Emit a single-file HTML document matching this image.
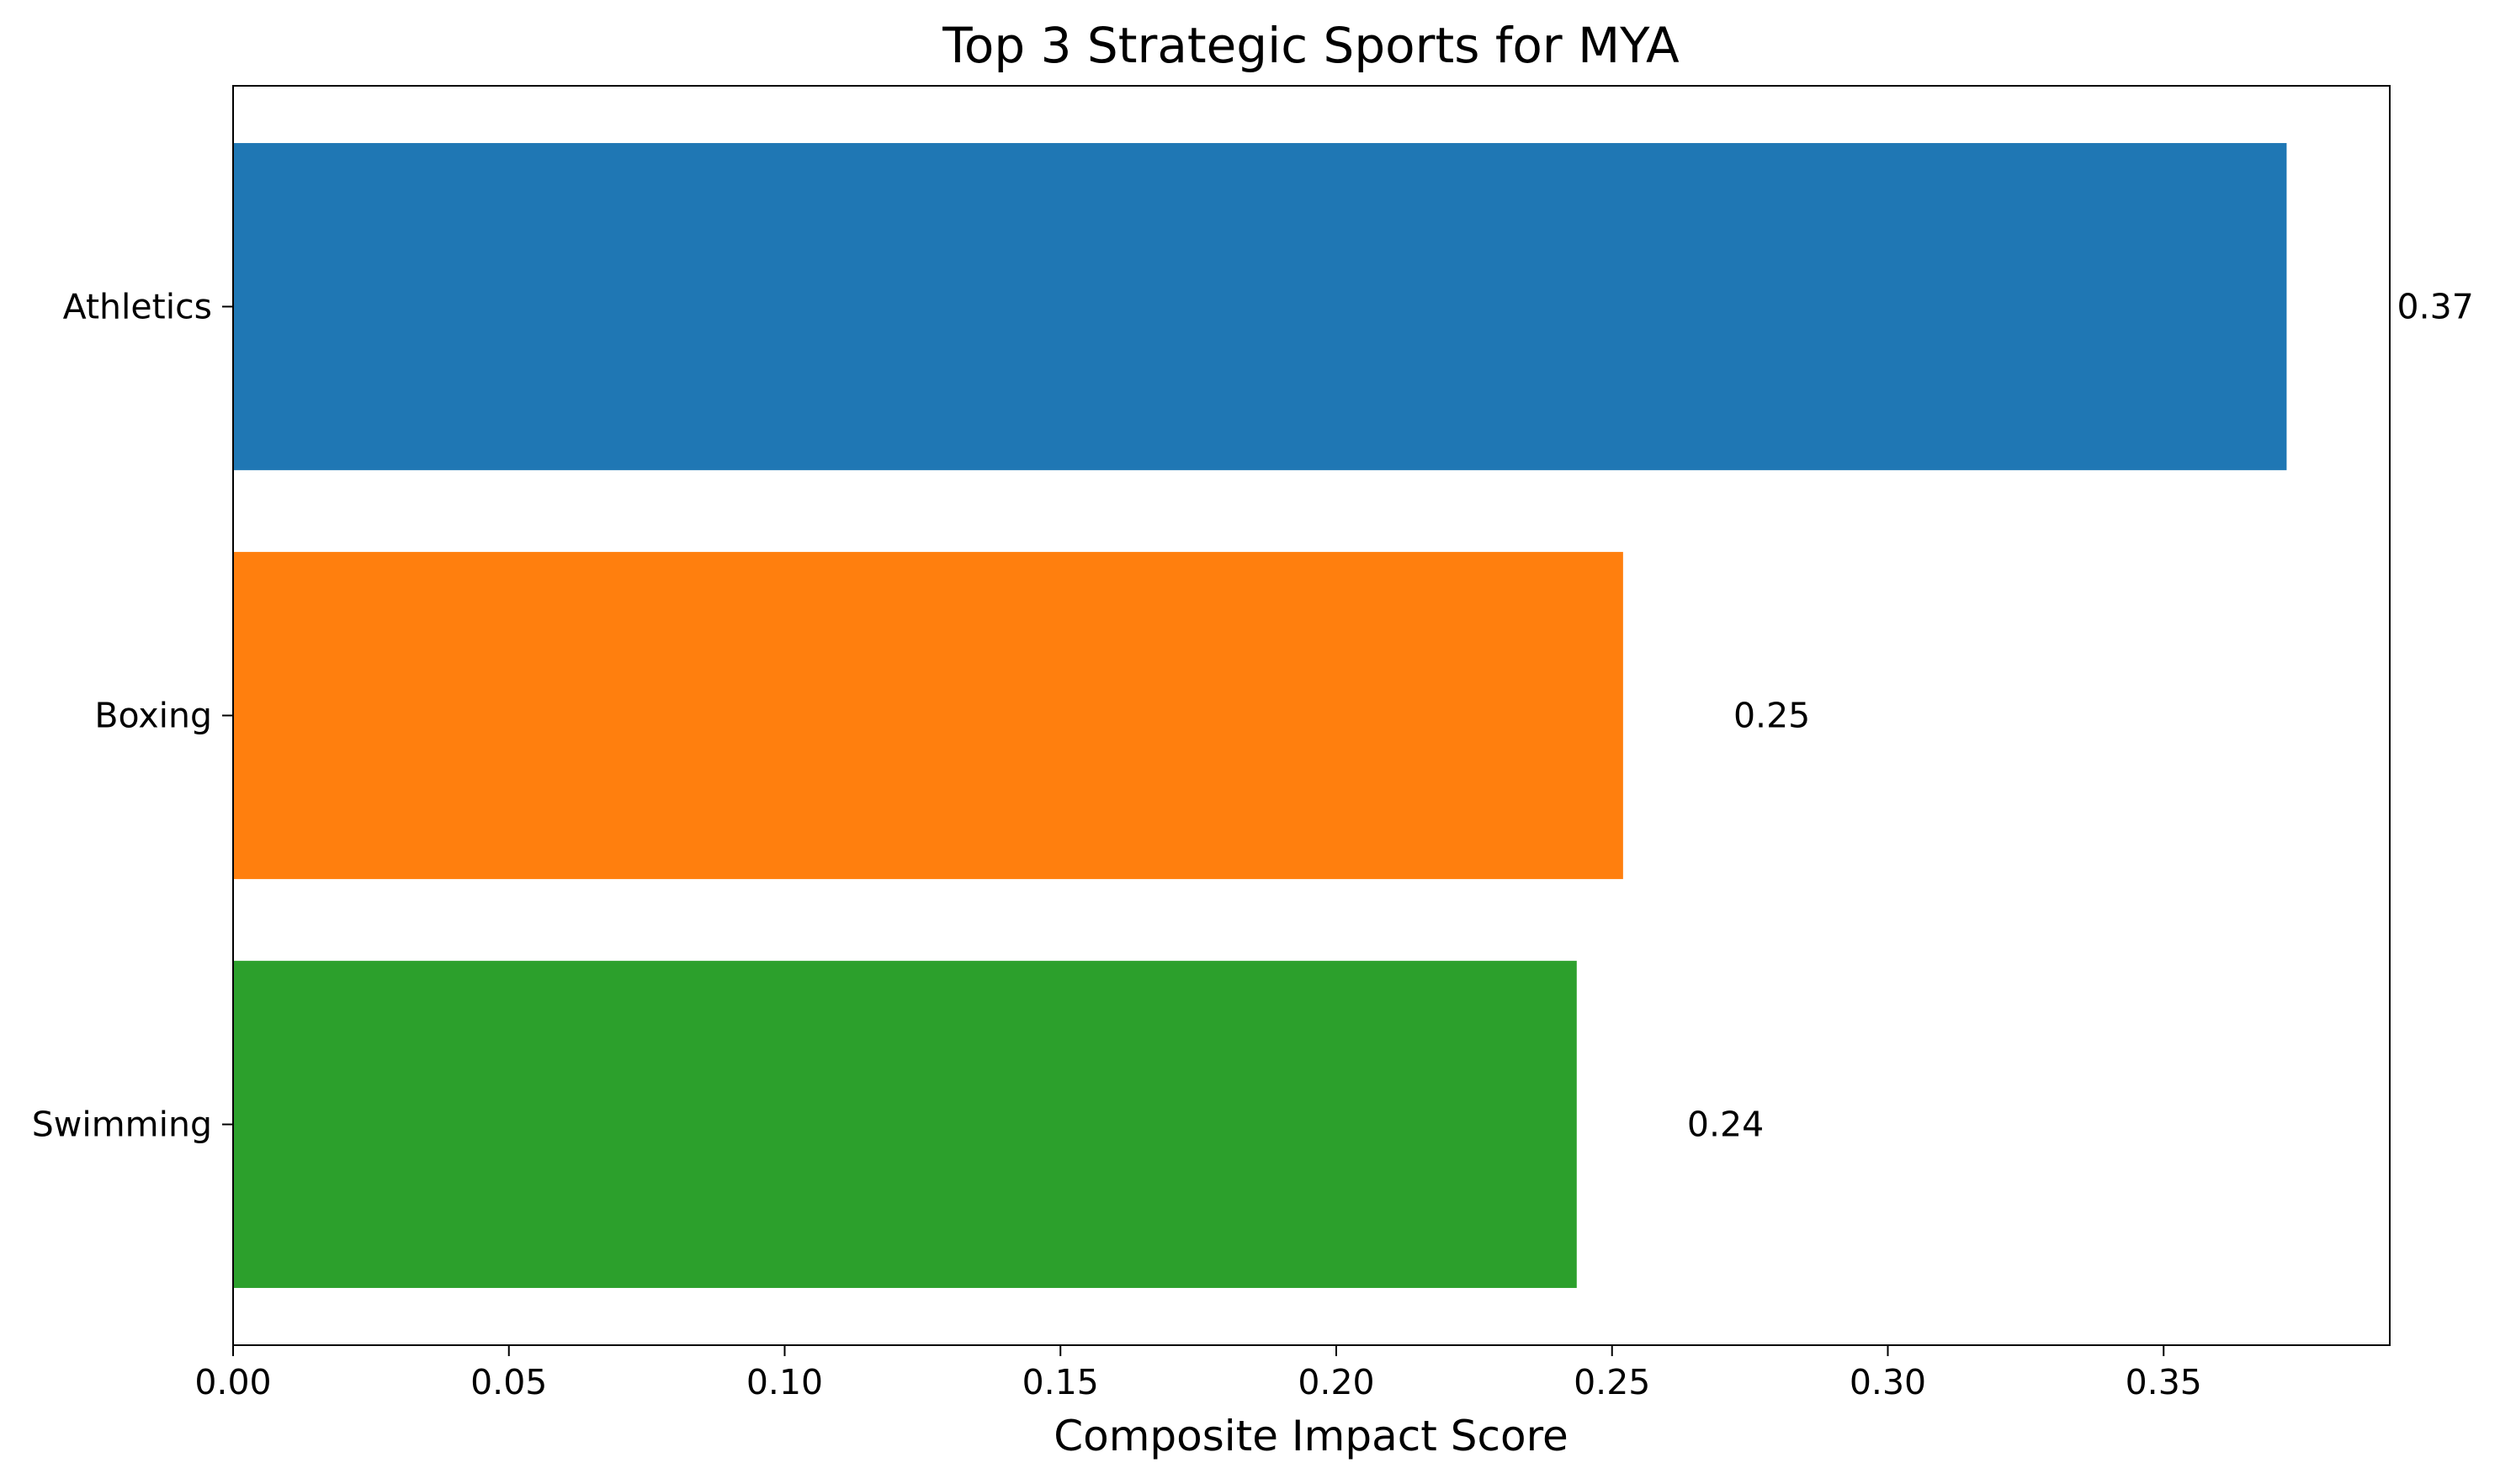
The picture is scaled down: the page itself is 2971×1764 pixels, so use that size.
<!DOCTYPE html>
<html><head><meta charset="utf-8"><style>
html,body{margin:0;padding:0;background:#fff;}
svg{display:block;font-family:"DejaVu Sans","Liberation Sans",sans-serif;}
</style></head><body>
<svg id="chart" width="2971" height="1764" viewBox="0 0 2971 1764" xmlns="http://www.w3.org/2000/svg">
<rect width="2971" height="1764" fill="#fff"/>
<text x="1558" y="74" font-size="58" text-anchor="middle" fill="#000">Top 3 Strategic Sports for MYA</text>
<text x="1558" y="1724" font-size="50" text-anchor="middle" fill="#000">Composite Impact Score</text>
<g id="plot"></g>
</svg>
<script>
const categories = ["Athletics", "Boxing", "Swimming"];
const scores = [0.3723, 0.252, 0.2436];
const valueLabels = ["0.37", "0.25", "0.24"];
const xTicks = [0, 0.05, 0.1, 0.15, 0.2, 0.25, 0.3, 0.35];
const xTickLabels = ["0.00", "0.05", "0.10", "0.15", "0.20", "0.25", "0.30", "0.35"];
const colors = ["#1f77b4", "#ff7f0e", "#2ca02c"];

const L = 277, R = 2840, T = 102, B = 1599;
const xMax = 0.391;
const xs = v => L + v / xMax * (R - L);
const yMin = -0.54, yMax = 2.54;
const ys = i => T + (i - yMin) / (yMax - yMin) * (B - T);
const NS = "http://www.w3.org/2000/svg";
const g = document.getElementById("plot");
function mk(tag, attrs) { const e = document.createElementNS(NS, tag); for (const k in attrs) e.setAttribute(k, attrs[k]); g.appendChild(e); return e; }

categories.forEach((c, i) => {
  const y0 = ys(i - 0.4), y1 = ys(i + 0.4);
  const bar = mk("rect", {x: xs(0), y: y0, width: xs(scores[i]) - xs(0), height: y1 - y0, fill: colors[i % colors.length]});
  
  
  const lbl = mk("text", {x: xs(scores[i] + 0.02), y: ys(i) + 14, "font-size": 41, fill: "#000"});
  lbl.textContent = valueLabels[i];
  
  
  const tk = mk("line", {x1: L - 13, x2: L, y1: ys(i), y2: ys(i), stroke: "#000", "stroke-width": 2});
  
  
  const tl = mk("text", {x: L - 25, y: ys(i) + 14, "font-size": 41, "text-anchor": "end", fill: "#000"});
  tl.textContent = c;
  
  
});
xTicks.forEach((t, i) => {
  const tk = mk("line", {x1: xs(t), x2: xs(t), y1: B, y2: B + 13, stroke: "#000", "stroke-width": 2});
  
  
  const tl = mk("text", {x: xs(t), y: B + 58, "font-size": 41, "text-anchor": "middle", fill: "#000"});
  tl.textContent = xTickLabels[i];
  
  
});
const frame = mk("rect", {x: L, y: T, width: R - L, height: B - T, fill: "none", stroke: "#000", "stroke-width": 2});


</script>
</body></html>
